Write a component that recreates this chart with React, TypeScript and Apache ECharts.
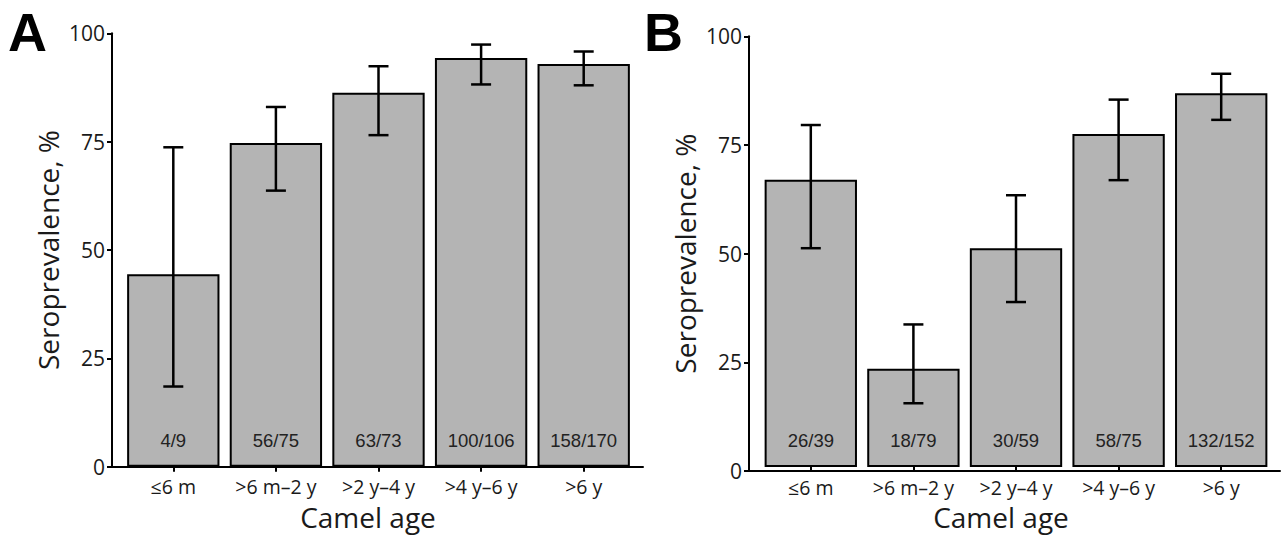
import React, { useEffect, useRef } from 'react';
import * as echarts from 'echarts';

const categories = ['≤6 m', '>6 m–2 y', '>2 y–4 y', '>4 y–6 y', '>6 y'];

const prevA = [44.4, 74.7, 86.3, 94.3, 92.9];
const lowA = [18.5, 63.7, 76.5, 88.2, 88.0];
const highA = [73.7, 83.0, 92.4, 97.4, 95.8];
const countsA = ['4/9', '56/75', '63/73', '100/106', '158/170'];

const prevB = [66.7, 22.8, 50.8, 77.3, 86.8];
const lowB = [50.8, 14.8, 38.3, 66.6, 80.6];
const highB = [79.4, 33.1, 63.1, 85.3, 91.3];
const countsB = ['26/39', '18/79', '30/59', '58/75', '132/152'];

const panelLetters = ['A', 'B'];
const yTitle = 'Seroprevalence, %';
const xTitle = 'Camel age';

const TXT = '#1a1a1a';
const AXIS = { color: '#000', width: 2 };
const SANS = '"Open Sans", "Noto Sans", sans-serif';

function catAxis(gridIndex: number, padRight: number) {
  return {
    gridIndex,
    type: 'category',
    data: categories,
    axisLine: { show: false },
    axisTick: { show: true, alignWithLabel: true, length: 5, lineStyle: AXIS },
    axisLabel: {
      interval: 0,
      fontSize: 19.5,
      lineHeight: 16,
      fontFamily: SANS,
      color: TXT,
      margin: 12,
    },
    splitLine: { show: false },
    name: xTitle,
    nameLocation: 'middle',
    nameGap: 39,
    nameTextStyle: {
      fontSize: 28,
      lineHeight: 22,
      fontFamily: SANS,
      color: TXT,
      padding: [0, padRight, 0, 0],
    },
  };
}

function frameX(gridIndex: number) {
  return {
    gridIndex,
    type: 'value',
    min: 0,
    max: 1,
    axisLine: { show: true, lineStyle: AXIS },
    axisTick: { show: false },
    axisLabel: { show: false },
    splitLine: { show: false },
  };
}

function hiddenY(gridIndex: number) {
  return { gridIndex, type: 'value', min: 0, max: 100, show: false };
}

function frameY(gridIndex: number) {
  return {
    gridIndex,
    type: 'value',
    min: 0,
    max: 100,
    interval: 25,
    axisLine: { show: true, lineStyle: AXIS },
    axisTick: { show: true, length: 5, lineStyle: AXIS },
    axisLabel: { fontSize: 21, fontFamily: SANS, color: TXT, margin: 7 },
    splitLine: { show: false },
    name: yTitle,
    nameLocation: 'middle',
    nameRotate: 90,
    nameGap: 50,
    nameTextStyle: { fontSize: 28, fontFamily: SANS, color: TXT },
  };
}

function barSeries(axisIndex: number, values: number[], counts: string[]) {
  return {
    type: 'bar',
    xAxisIndex: axisIndex,
    yAxisIndex: axisIndex,
    data: values,
    barCategoryGap: '10%',
    itemStyle: { color: '#b4b4b4', borderColor: '#000', borderWidth: 2 },
    label: {
      show: true,
      position: 'insideBottom',
      distance: 17,
      formatter: (p: any) => counts[p.dataIndex],
      fontSize: 18.5,
      fontFamily: '"Liberation Sans", Arial, sans-serif',
      color: '#222',
    },
    z: 2,
  };
}

function errSeries(axisIndex: number, lows: number[], highs: number[]) {
  return {
    type: 'custom',
    xAxisIndex: axisIndex,
    yAxisIndex: axisIndex,
    data: lows.map((l, i) => [i, l, highs[i]]),
    encode: { x: 0, y: [1, 2] },
    z: 5,
    renderItem: (params: any, api: any) => {
      const i = api.value(0);
      const lo = api.coord([i, api.value(1)]);
      const hi = api.coord([i, api.value(2)]);
      const w = 10;
      const style = { stroke: '#000', lineWidth: 2.5 };
      return {
        type: 'group',
        children: [
          { type: 'line', shape: { x1: lo[0], y1: lo[1], x2: hi[0], y2: hi[1] }, style },
          { type: 'line', shape: { x1: hi[0] - w, y1: hi[1], x2: hi[0] + w, y2: hi[1] }, style },
          { type: 'line', shape: { x1: lo[0] - w, y1: lo[1], x2: lo[0] + w, y2: lo[1] }, style },
        ],
      };
    },
  };
}

export default function App() {
  const ref = useRef<HTMLDivElement>(null);
  useEffect(() => {
    if (!ref.current) return;
    const chart = echarts.init(ref.current, undefined, { renderer: 'svg' });
    chart.setOption({
      animation: false,
      backgroundColor: '#fff',
      grid: [
        { left: 122, top: 33.3, width: 513, height: 433.4 },
        { left: 112, top: 33.3, width: 531, height: 433.4 },
        { left: 759.5, top: 36.3, width: 513, height: 434.7 },
        { left: 749, top: 36.3, width: 531, height: 434.7 },
      ],
      xAxis: [catAxis(0, 21), frameX(1), catAxis(2, 30), frameX(3)],
      yAxis: [hiddenY(0), frameY(1), hiddenY(2), frameY(3)],
      series: [
        barSeries(0, prevA, countsA),
        errSeries(0, lowA, highA),
        barSeries(2, prevB, countsB),
        errSeries(2, lowB, highB),
      ],
      graphic: [
        {
          type: 'text',
          left: 8,
          top: 5,
          style: {
            text: panelLetters[0],
            font: 'bold 54px "Liberation Sans", Arial, sans-serif',
            lineHeight: 46,
            fill: '#000',
          },
        },
        {
          type: 'text',
          left: 644,
          top: 5,
          style: {
            text: panelLetters[1],
            font: 'bold 54px "Liberation Sans", Arial, sans-serif',
            lineHeight: 46,
            fill: '#000',
          },
        },
      ],
    });
    return () => chart.dispose();
  }, []);
  return (
    <div
      ref={ref}
      style={{ position: 'fixed', left: 0, top: 0, width: 1287, height: 536, background: '#fff' }}
    />
  );
}
